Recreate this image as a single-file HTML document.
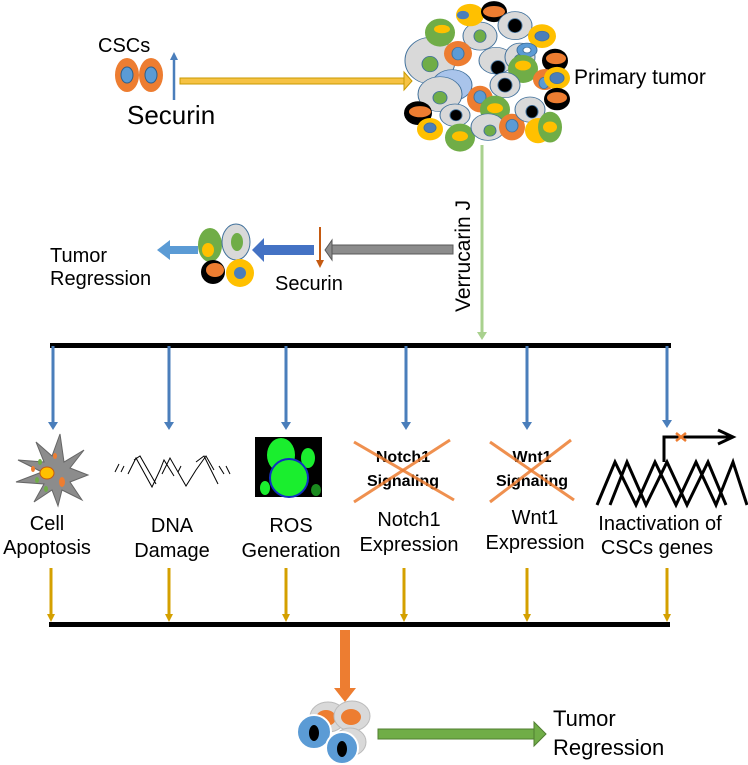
<!DOCTYPE html>
<html><head><meta charset="utf-8"><style>
html,body{margin:0;padding:0;background:#fff;}
svg{display:block;font-family:"Liberation Sans",sans-serif;}
</style></head><body>
<svg width="748" height="765" viewBox="0 0 748 765" xmlns="http://www.w3.org/2000/svg">
<!-- Top left CSCs -->
<text x="98" y="52" font-size="20">CSCs</text>
<ellipse cx="127" cy="75" rx="12" ry="17" fill="#ed7d31"/><ellipse cx="127" cy="75" rx="6" ry="8" fill="#5b9bd5" stroke="#2e5f8a" stroke-width="1"/>
<ellipse cx="151" cy="75" rx="12" ry="17" fill="#ed7d31"/><ellipse cx="151" cy="75" rx="6" ry="8" fill="#5b9bd5" stroke="#2e5f8a" stroke-width="1"/>
<line x1="174" y1="100" x2="174" y2="56" stroke="#4a7ebb" stroke-width="2.5"/><path d="M170,60 L174,52 L178,60z" fill="#4a7ebb"/>
<text x="127" y="124" font-size="26">Securin</text>
<rect x="180" y="78" width="226" height="6" fill="#f6c243" stroke="#c89a00" stroke-width="1"/><path d="M404,72 L412,81 L404,90z" fill="#f6c243" stroke="#c89a00"/>
<!-- Primary tumor cluster -->
<g stroke="#41719c" stroke-width="1" transform="translate(487,76) scale(1,0.7) translate(-487,-107)">
<ellipse cx="430" cy="85" rx="25" ry="33" fill="#d9d9d9"/><ellipse cx="430" cy="90" rx="8" ry="11" fill="#70ad47"/>
<ellipse cx="452" cy="120" rx="20" ry="22" fill="#a9c4eb"/>
<ellipse cx="440" cy="133" rx="22" ry="25" fill="#d9d9d9"/><ellipse cx="440" cy="138" rx="7" ry="9" fill="#70ad47"/>
<ellipse cx="440" cy="45" rx="15" ry="20" fill="#70ad47" stroke="none"/><ellipse cx="442" cy="40" rx="8" ry="6" fill="#ffc000" stroke="none"/>
<ellipse cx="480" cy="50" rx="17" ry="20" fill="#d9d9d9"/><ellipse cx="480" cy="50" rx="6" ry="9" fill="#70ad47"/>
<ellipse cx="470" cy="20" rx="14" ry="16" fill="#ffc000" stroke="none"/><ellipse cx="463" cy="20" rx="6" ry="6" fill="#4a7ebb" stroke="none"/>
<ellipse cx="494" cy="15" rx="13" ry="15" fill="#000" stroke="none"/><ellipse cx="494" cy="15" rx="11" ry="8" fill="#ed7d31" stroke="none"/>
<ellipse cx="515" cy="35" rx="17" ry="20" fill="#d9d9d9"/><ellipse cx="515" cy="35" rx="7" ry="10" fill="#000"/>
<ellipse cx="542" cy="50" rx="14" ry="17" fill="#ffc000" stroke="none"/><ellipse cx="542" cy="50" rx="7" ry="7" fill="#4a7ebb"/>
<ellipse cx="555" cy="85" rx="13" ry="17" fill="#000" stroke="none"/><ellipse cx="556" cy="82" rx="10" ry="8" fill="#ed7d31" stroke="none"/>
<ellipse cx="458" cy="75" rx="14" ry="18" fill="#ed7d31" stroke="none"/><ellipse cx="458" cy="75" rx="6" ry="9" fill="#5b9bd5"/>
<ellipse cx="496" cy="85" rx="17" ry="19" fill="#d9d9d9"/><ellipse cx="498" cy="95" rx="7" ry="10" fill="#000"/>
<ellipse cx="520" cy="80" rx="15" ry="20" fill="#d9d9d9"/><ellipse cx="520" cy="85" rx="6" ry="9" fill="#70ad47"/>
<ellipse cx="527" cy="70" rx="10" ry="10" fill="#5b9bd5"/><circle cx="527" cy="70" r="4" fill="#fff"/>
<ellipse cx="523" cy="97" rx="15" ry="20" fill="#70ad47" stroke="none"/><ellipse cx="523" cy="92" rx="8" ry="7" fill="#ffc000" stroke="none"/>
<ellipse cx="545" cy="112" rx="12" ry="15" fill="#ed7d31" stroke="none"/><ellipse cx="544" cy="117" rx="5" ry="8" fill="#5b9bd5"/>
<ellipse cx="557" cy="110" rx="13" ry="16" fill="#ffc000" stroke="none"/><ellipse cx="557" cy="110" rx="7" ry="8" fill="#4a7ebb"/>
<ellipse cx="480" cy="140" rx="13" ry="19" fill="#ed7d31" stroke="none"/><ellipse cx="480" cy="137" rx="6" ry="9" fill="#5b9bd5"/>
<ellipse cx="505" cy="120" rx="15" ry="18" fill="#d9d9d9"/><ellipse cx="505" cy="120" rx="7" ry="10" fill="#000"/>
<ellipse cx="495" cy="155" rx="15" ry="20" fill="#70ad47" stroke="none"/><ellipse cx="495" cy="153" rx="8" ry="7" fill="#ffc000" stroke="none"/>
<ellipse cx="455" cy="163" rx="15" ry="16" fill="#d9d9d9"/><ellipse cx="456" cy="163" rx="6" ry="8" fill="#000"/>
<ellipse cx="418" cy="160" rx="14" ry="17" fill="#000" stroke="none"/><ellipse cx="420" cy="158" rx="11" ry="8" fill="#ed7d31" stroke="none"/>
<ellipse cx="430" cy="183" rx="13" ry="16" fill="#ffc000" stroke="none"/><ellipse cx="430" cy="181" rx="6" ry="7" fill="#4a7ebb"/>
<ellipse cx="460" cy="195" rx="15" ry="20" fill="#70ad47" stroke="none"/><ellipse cx="460" cy="193" rx="8" ry="7" fill="#ffc000" stroke="none"/>
<ellipse cx="488" cy="180" rx="17" ry="19" fill="#d9d9d9"/><ellipse cx="490" cy="185" rx="6" ry="8" fill="#70ad47"/>
<ellipse cx="512" cy="180" rx="13" ry="19" fill="#ed7d31" stroke="none"/><ellipse cx="512" cy="178" rx="6" ry="9" fill="#5b9bd5"/>
<ellipse cx="530" cy="155" rx="15" ry="18" fill="#d9d9d9"/><ellipse cx="532" cy="158" rx="6" ry="9" fill="#000"/>
<ellipse cx="538" cy="185" rx="13" ry="18" fill="#ffc000" stroke="none"/>
<ellipse cx="550" cy="180" rx="12" ry="22" fill="#70ad47" stroke="none"/><ellipse cx="550" cy="180" rx="7" ry="8" fill="#ffc000" stroke="none"/>
<ellipse cx="557" cy="140" rx="13" ry="16" fill="#000" stroke="none"/><ellipse cx="557" cy="138" rx="10" ry="8" fill="#ed7d31" stroke="none"/>
</g>
<text x="574" y="84" font-size="21">Primary tumor</text>
<!-- green line -->
<line x1="482" y1="145" x2="482" y2="336" stroke="#a9d18e" stroke-width="3"/><path d="M477,332 L482,340 L487,332z" fill="#a9d18e"/>
<text transform="translate(470,312) rotate(-90)" font-size="21">Verrucarin J</text>
<!-- gray arrow -->
<rect x="330" y="245" width="123" height="9" fill="#8c8c8c" stroke="#595959" stroke-width="1"/><path d="M332,240 L325,250 L332,260z" fill="#8c8c8c" stroke="#595959"/>
<line x1="320" y1="227" x2="320" y2="262" stroke="#c55a11" stroke-width="2"/><path d="M316,260 L320,268 L324,260z" fill="#c55a11"/>
<text x="275" y="290" font-size="20">Securin</text>
<rect x="262" y="245" width="52" height="10" fill="#4472c4"/><path d="M264,238 L252,250 L264,262z" fill="#4472c4"/>
<!-- small cluster -->
<ellipse cx="210" cy="245" rx="12" ry="17" fill="#70ad47"/><ellipse cx="208" cy="250" rx="6" ry="7" fill="#ffc000"/>
<ellipse cx="236" cy="242" rx="14" ry="18" fill="#d9d9d9" stroke="#41719c"/><ellipse cx="237" cy="242" rx="6" ry="9" fill="#70ad47"/>
<ellipse cx="213" cy="272" rx="12" ry="12" fill="#000"/><ellipse cx="215" cy="270" rx="9" ry="7" fill="#ed7d31"/>
<ellipse cx="240" cy="273" rx="14" ry="14" fill="#ffc000"/><ellipse cx="240" cy="273" rx="6" ry="6" fill="#4a7ebb"/>
<rect x="168" y="246" width="30" height="8" fill="#5b9bd5"/><path d="M170,240 L157,250 L170,260z" fill="#5b9bd5"/>
<text x="50" y="262" font-size="20">Tumor</text>
<text x="50" y="285" font-size="20">Regression</text>
<!-- top bar -->
<rect x="50" y="343" width="621" height="5" fill="#000"/>
<g stroke="#4a7ebb" stroke-width="3">
<line x1="53" y1="346" x2="53" y2="424"/><line x1="169" y1="346" x2="169" y2="424"/><line x1="286" y1="346" x2="286" y2="424"/>
<line x1="406" y1="346" x2="406" y2="424"/><line x1="527" y1="346" x2="527" y2="424"/><line x1="667" y1="346" x2="667" y2="422"/>
</g>
<g fill="#4a7ebb">
<path d="M48,422 L53,430 L58,422z"/><path d="M164,422 L169,430 L174,422z"/><path d="M281,422 L286,430 L291,422z"/>
<path d="M401,422 L406,430 L411,422z"/><path d="M522,422 L527,430 L532,422z"/><path d="M662,420 L667,428 L672,420z"/>
</g>
<!-- icons -->
<g transform="translate(0,32)">
<polygon points="60,402 64,430 84,418 70,436 88,443 70,450 82,468 62,458 58,474 52,458 34,470 44,452 16,450 42,440 18,428 44,430 36,410 52,424" fill="#8c8c8c" stroke="#666"/>
<ellipse cx="47" cy="441" rx="7" ry="6" fill="#ffc000" stroke="#c55a11"/>
<ellipse cx="55" cy="424" rx="2" ry="3" fill="#ed7d31"/><ellipse cx="62" cy="450" rx="3" ry="5" fill="#ed7d31"/><ellipse cx="33" cy="437" rx="2" ry="3" fill="#ed7d31"/>
<ellipse cx="40" cy="430" rx="2" ry="3" fill="#70ad47"/><ellipse cx="46" cy="457" rx="2" ry="3" fill="#70ad47"/><ellipse cx="37" cy="448" rx="2" ry="3" fill="#70ad47"/>
</g>
<g stroke="#000" stroke-width="1" fill="none">
<path d="M128,474 L136,458 L152,487 L160,470 L164,460 L174,476"/><path d="M134,460 L140,456 L156,484"/>
<path d="M162,474 L170,458 L186,486 L196,470 L206,456 L214,470"/><path d="M196,462 L204,456 L218,484"/>
<path d="M115,472 L119,464"/><path d="M121,472 L124,466"/><path d="M178,472 L181,466"/><path d="M219,466 L224,474"/><path d="M226,466 L230,474"/>
</g>
<rect x="255" y="437" width="67" height="60" fill="#000"/>
<ellipse cx="281" cy="455" rx="14" ry="17" fill="#1aee2e"/><ellipse cx="308" cy="458" rx="7" ry="10" fill="#1aee2e"/>
<ellipse cx="289" cy="478" rx="19" ry="19" fill="#1aee2e" stroke="#1030c0" stroke-width="2"/><ellipse cx="265" cy="488" rx="5" ry="7" fill="#1aee2e"/><ellipse cx="316" cy="490" rx="5" ry="6" fill="#1a8a1e"/>
<text x="403" y="462" font-size="16" font-weight="bold" text-anchor="middle">Notch1</text>
<text x="403" y="486" font-size="16" font-weight="bold" text-anchor="middle">Signaling</text>
<line x1="354" y1="442" x2="454" y2="500" stroke="#ed7d31" stroke-width="3" opacity="0.85"/><line x1="450" y1="440" x2="354" y2="502" stroke="#ed7d31" stroke-width="3" opacity="0.85"/>
<text x="532" y="462" font-size="16" font-weight="bold" text-anchor="middle">Wnt1</text>
<text x="532" y="486" font-size="16" font-weight="bold" text-anchor="middle">Signaling</text>
<line x1="490" y1="442" x2="574" y2="500" stroke="#ed7d31" stroke-width="3" opacity="0.85"/><line x1="571" y1="440" x2="490" y2="502" stroke="#ed7d31" stroke-width="3" opacity="0.85"/>
<g stroke="#000" stroke-width="3" fill="none">
<path d="M597,505 L615,462 L636,505 L655,462 L676,505 L696,462 L716,505 L733,462 L747,505"/>
<path d="M610,505 L627,462 L646,505 L667,462 L687,505 L708,462 L726,505"/>
<path d="M664,462 L664,437 L730,437"/>
</g>
<path d="M718,430 L733,437 L718,444" stroke="#000" stroke-width="3" fill="none"/>
<line x1="676" y1="433" x2="686" y2="441" stroke="#ed7d31" stroke-width="2.5"/><line x1="686" y1="433" x2="676" y2="441" stroke="#ed7d31" stroke-width="2.5"/>
<!-- labels -->
<g font-size="20" text-anchor="middle">
<text x="47" y="530">Cell</text><text x="47" y="554">Apoptosis</text>
<text x="172" y="532">DNA</text><text x="172" y="557">Damage</text>
<text x="291" y="532">ROS</text><text x="291" y="557">Generation</text>
<text x="409" y="526">Notch1</text><text x="409" y="551">Expression</text>
<text x="535" y="524">Wnt1</text><text x="535" y="549">Expression</text>
<text x="660" y="530">Inactivation of</text><text x="657" y="554">CSCs genes</text>
</g>
<!-- yellow arrows -->
<g stroke="#d4a000" stroke-width="3">
<line x1="51" y1="568" x2="51" y2="616"/><line x1="169" y1="568" x2="169" y2="616"/><line x1="286" y1="568" x2="286" y2="616"/>
<line x1="404" y1="568" x2="404" y2="616"/><line x1="527" y1="568" x2="527" y2="616"/><line x1="667" y1="568" x2="667" y2="616"/>
</g>
<g fill="#d4a000">
<path d="M47,614 L51,622 L55,614z"/><path d="M165,614 L169,622 L173,614z"/><path d="M282,614 L286,622 L290,614z"/>
<path d="M400,614 L404,622 L408,614z"/><path d="M523,614 L527,622 L531,614z"/><path d="M663,614 L667,622 L671,614z"/>
</g>
<rect x="49" y="622" width="621" height="5" fill="#000"/>
<!-- bottom -->
<rect x="340" y="630" width="10" height="60" fill="#ed7d31"/><path d="M334,688 L345,702 L356,688z" fill="#ed7d31"/>
<ellipse cx="328" cy="717" rx="18" ry="15" fill="#d9d9d9" stroke="#bbb"/><ellipse cx="326" cy="718" rx="10" ry="8" fill="#ed7d31"/>
<ellipse cx="352" cy="716" rx="18" ry="15" fill="#d9d9d9" stroke="#bbb"/><ellipse cx="351" cy="717" rx="10" ry="8" fill="#ed7d31"/>
<ellipse cx="350" cy="742" rx="16" ry="14" fill="#d9d9d9" stroke="#bbb"/>
<ellipse cx="314" cy="732" rx="17" ry="17" fill="#5b9bd5" stroke="#fff" stroke-width="2"/><ellipse cx="314" cy="733" rx="5" ry="8" fill="#000"/>
<ellipse cx="342" cy="748" rx="16" ry="16" fill="#5b9bd5" stroke="#fff" stroke-width="2"/><ellipse cx="342" cy="749" rx="5" ry="8" fill="#000"/>
<rect x="378" y="729" width="158" height="10" fill="#70ad47" stroke="#507e32"/><path d="M534,722 L546,734 L534,746z" fill="#70ad47" stroke="#507e32"/>
<text x="553" y="726" font-size="22">Tumor</text>
<text x="553" y="755" font-size="22">Regression</text>
</svg>
</body></html>
